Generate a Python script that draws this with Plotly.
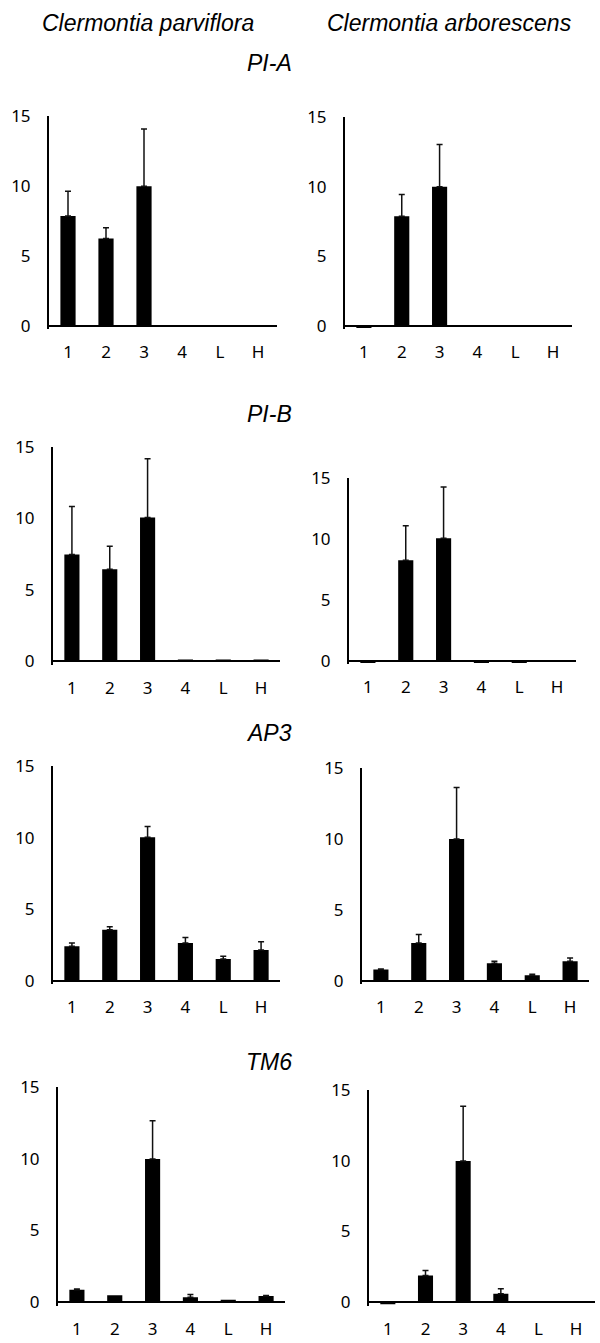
import plotly.graph_objects as go

W, H = 600, 1343
# observed vertical mapping of the photographed page: shown_y = SY * y + OY
SY, OY = 0.987, 10.5

categories = ["1", "2", "3", "4", "L", "H"]
species = ["Clermontia parviflora", "Clermontia arborescens"]
genes = ["PI-A", "PI-B", "AP3", "TM6"]
y_ticks = [0, 5, 10, 15]

# values (relative expression) and upper error
parv_pia = [7.86, 6.26, 10.0, 0, 0, 0]
parv_pia_err = [1.78, 0.76, 4.1, None, None, None]
arb_pia = [-0.15, 7.89, 10.0, 0, 0, 0]
arb_pia_err = [None, 1.56, 3.04, None, None, None]

parv_pib = [7.46, 6.43, 10.05, 0.12, 0.12, 0.12]
parv_pib_err = [3.36, 1.61, 4.10, None, None, None]
arb_pib = [-0.15, 8.26, 10.05, -0.15, -0.15, 0]
arb_pib_err = [None, 2.80, 4.19, None, None, None]

parv_ap3 = [2.40, 3.56, 10.02, 2.63, 1.51, 2.14]
parv_ap3_err = [0.23, 0.21, 0.75, 0.39, 0.19, 0.58]
arb_ap3 = [0.78, 2.66, 10.0, 1.22, 0.38, 1.36]
arb_ap3_err = [0.04, 0.59, 3.62, 0.14, 0.07, 0.24]

parv_tm6 = [0.86, 0.47, 10.0, 0.33, 0.15, 0.42]
parv_tm6_err = [0.05, None, 2.67, 0.20, None, 0.03]
arb_tm6 = [-0.15, 1.88, 9.99, 0.59, 0, 0]
arb_tm6_err = [None, 0.35, 3.88, 0.35, None, None]

panels = [
    (parv_pia, parv_pia_err), (arb_pia, arb_pia_err),
    (parv_pib, parv_pib_err), (arb_pib, arb_pib_err),
    (parv_ap3, parv_ap3_err), (arb_ap3, arb_ap3_err),
    (parv_tm6, parv_tm6_err), (arb_tm6, arb_tm6_err),
]

# layout boxes in screen pixels: (left, right, top(=15), baseline(=0))
boxes = [
    (49, 277, 115, 325), (345, 572, 116, 325),
    (53, 280, 446, 661), (349, 576, 477, 661),
    (53, 280, 766, 981), (362, 589, 768, 981),
    (58, 285, 1088, 1303), (369, 595, 1091, 1303),
]
YMIN, YMAX = -0.25, 15


def fx(px):
    return min(1.0, max(0.0, px / W))


def fy(py):
    return min(1.0, max(0.0, 1 - ((py - OY) / SY) / H))


fig = go.Figure()
tick_font = dict(family="Noto Sans, Open Sans, sans-serif", size=17, color="#000")

for i, ((vals, errs), (l, r, t, b)) in enumerate(zip(panels, boxes)):
    n = i + 1
    xa = "x" if n == 1 else f"x{n}"
    ya = "y" if n == 1 else f"y{n}"
    scale = (b - t) / YMAX
    bottom_px = b + (-YMIN) * scale
    fig.add_trace(go.Bar(
        x=categories, y=vals, xaxis=xa, yaxis=ya,
        marker=dict(color="black", line=dict(width=0)),
        width=0.4, showlegend=False,
    ))
    ex = [c for c, e in zip(categories, errs) if e is not None]
    ey = [v for v, e in zip(vals, errs) if e is not None]
    ee = [e for e in errs if e is not None]
    fig.add_trace(go.Scatter(
        x=ex, y=ey, xaxis=xa, yaxis=ya, mode="markers",
        marker=dict(size=1, color="rgba(0,0,0,0)"),
        error_y=dict(type="data", symmetric=False, array=ee,
                     arrayminus=[0] * len(ee), color="#111",
                     thickness=1.5, width=3),
        showlegend=False, hoverinfo="skip",
    ))
    xkey = "xaxis" if n == 1 else f"xaxis{n}"
    ykey = "yaxis" if n == 1 else f"yaxis{n}"
    fig.layout[xkey] = dict(
        domain=[fx(l), fx(r)], anchor=ya, type="category",
        categoryorder="array", categoryarray=categories,
        range=[-0.5, 5.5], showline=False, showgrid=False, zeroline=False,
        ticks="", tickfont=tick_font, ticklabelstandoff=11,
        fixedrange=True,
    )
    fig.layout[ykey] = dict(
        domain=[fy(bottom_px), fy(t)], anchor=xa,
        range=[YMIN, YMAX], tickvals=y_ticks, showline=True,
        linecolor="black", linewidth=2, showgrid=False,
        zeroline=True, zerolinecolor="black", zerolinewidth=2,
        ticks="", tickfont=tick_font, ticklabelstandoff=13,
        fixedrange=True,
    )

title_font = dict(family="Liberation Sans, Arial, sans-serif", size=23, color="#000")
annotations = [
    dict(text=f"<i>{species[0]}</i>", x=fx(148), y=fy(22)),
    dict(text=f"<i>{species[1]}</i>", x=fx(449), y=fy(22)),
]
for g, yc in zip(genes, [62, 413, 733, 1063]):
    annotations.append(dict(text=f"<i>{g}</i>", x=fx(294), y=fy(yc), xanchor="right"))
for a in annotations:
    a.setdefault("xanchor", "center")
    a.update(xref="paper", yref="paper", yanchor="middle", showarrow=False, font=title_font)

fig.update_layout(
    width=W, height=H, margin=dict(l=0, r=0, t=0, b=0),
    paper_bgcolor="white", plot_bgcolor="white",
    annotations=annotations,
)
fig.write_html(
    "out.html",
    config={"responsive": False, "displayModeBar": False},
    post_script="document.body.style.margin='0px';document.body.style.overflow='hidden';",
)
